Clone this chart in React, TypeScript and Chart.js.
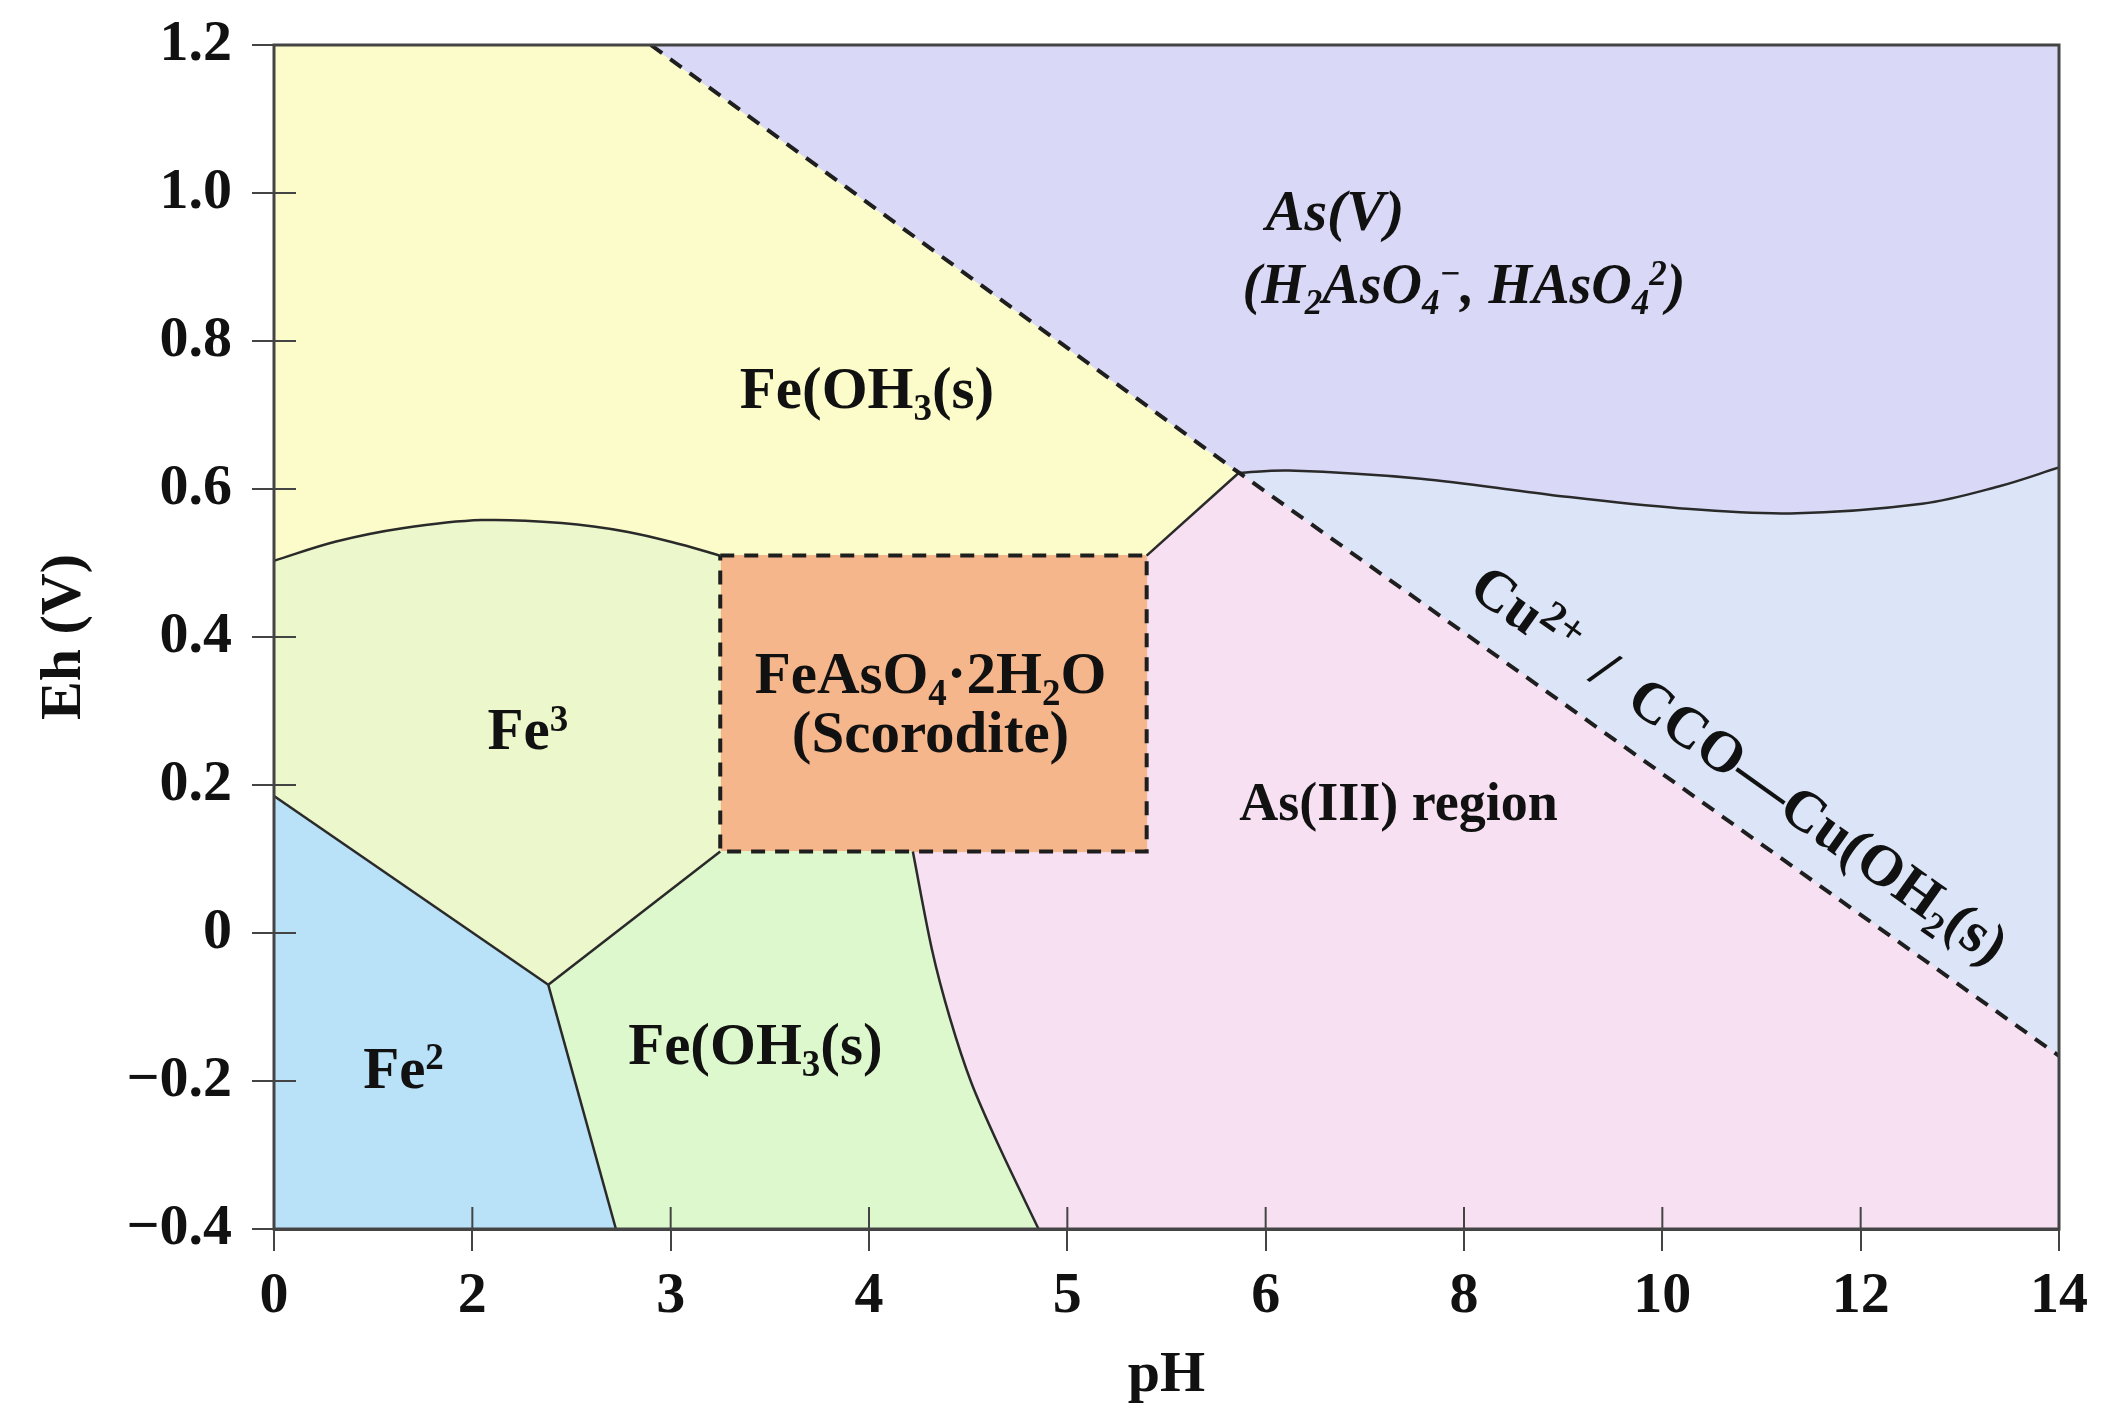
import React, { useEffect, useRef } from 'react';
import { Chart, registerables } from 'chart.js';

Chart.register(...registerables);

// ---------- axis ticks ----------
const xTickLabels = ['0', '2', '3', '4', '5', '6', '8', '10', '12', '14'];
const yMin = -0.4;
const yMax = 1.2;
const yStep = 0.2;

// ---------- boundaries: [x position index, Eh (V)] ----------
const dashedAsBoundary = [[1.9, 1.2], [4.865, 0.622], [9, -0.166]];
const wavyBoundary = [[4.865, 0.622], [5.116, 0.625], [5.782, 0.614], [6.438, 0.592], [7.083, 0.574], [7.646, 0.567], [8.31, 0.58], [8.69, 0.603], [9, 0.629]];
const fe3TopBoundary = [[0, 0.503], [0.313, 0.529], [0.647, 0.547], [1.047, 0.558], [1.45, 0.554], [1.785, 0.542], [2.053, 0.525], [2.25, 0.51]];
const scoroditeX = [2.25, 4.4];
const scoroditeEh = [0.11, 0.51];
const boxToTriple = [[4.4, 0.51], [4.865, 0.622]];
const fe3Fe2Boundary = [[0, 0.185], [1.383, -0.07]];
const junctionToBox = [[1.383, -0.07], [2.25, 0.11]];
const junctionToBottom = [[1.383, -0.07], [1.724, -0.4]];
const asIIIBoundary = [[3.221, 0.11], [3.317, -0.022], [3.407, -0.114], [3.517, -0.203], [3.662, -0.292], [3.855, -0.4]];

// ---------- colours ----------
const regionColors = {
  feOH3Upper: '#FCFCCB',
  asV: '#D9D9F7',
  cu: '#DCE5F8',
  asIII: '#F6E0F2',
  scorodite: '#F6B68C',
  fe3: '#ECF7CB',
  fe2: '#B9E2F8',
  feOH3Lower: '#DEF8CD',
};
const lineColor = '#2a2a2a';
const axisColor = '#444444';
const textColor = '#111111';
const FONT = '"Liberation Serif", "Times New Roman", serif';

// ---------- labels: parts [text, kind], x index, baseline Eh ----------
type Part = [string, string?];
const regionLabels: { parts: Part[]; x: number; y: number; size: number; style: string }[] = [
  { parts: [['Fe(OH'], ['3', 'sub'], ['(s)']], x: 2.99, y: 0.709, size: 59, style: 'bold' },
  { parts: [['As(V)']], x: 5.35, y: 0.95, size: 58, style: 'italic bold' },
  { parts: [['(H'], ['2', 'sub'], ['AsO'], ['4', 'sub'], ['\u2212', 'sup'], [', HAsO'], ['4', 'sub'], ['2', 'sup'], [')']], x: 6.0, y: 0.852, size: 56, style: 'italic bold' },
  { parts: [['Fe'], ['3', 'sup']], x: 1.28, y: 0.248, size: 59, style: 'bold' },
  { parts: [['FeAsO'], ['4', 'sub'], ['\u00B72H'], ['2', 'sub'], ['O']], x: 3.31, y: 0.324, size: 59, style: 'bold' },
  { parts: [['(Scorodite)']], x: 3.31, y: 0.245, size: 59, style: 'bold' },
  { parts: [['As(III) region']], x: 5.67, y: 0.153, size: 54, style: 'bold' },
  { parts: [['Fe'], ['2', 'sup']], x: 0.653, y: -0.209, size: 59, style: 'bold' },
  { parts: [['Fe(OH'], ['3', 'sub'], ['(s)']], x: 2.427, y: -0.177, size: 59, style: 'bold' },
];
const cuLabel: { parts: Part[]; x: number; y: number; size: number } = {
  parts: [['Cu'], ['2+', 'sup'], ['  /  CCO\u2014Cu(OH'], ['2', 'sub'], ['(s)']],
  x: 7.39,
  y: 0.228,
  size: 58,
};

type P = number[];
const rev = (a: P[]) => a.slice().reverse();

const T = wavyBoundary[0];
const D_END = dashedAsBoundary[2];
const TL = [scoroditeX[0], scoroditeEh[1]];
const TR = [scoroditeX[1], scoroditeEh[1]];
const BL = [scoroditeX[0], scoroditeEh[0]];
const BR = [scoroditeX[1], scoroditeEh[0]];
const J = fe3Fe2Boundary[1];

const regions: { color: string; pts: P[] }[] = [
  { color: regionColors.feOH3Upper, pts: [[0, yMax], dashedAsBoundary[0], T, TR, ...rev(fe3TopBoundary)] },
  { color: regionColors.asV, pts: [dashedAsBoundary[0], [9, yMax], ...rev(wavyBoundary)] },
  { color: regionColors.cu, pts: [...wavyBoundary, D_END] },
  { color: regionColors.asIII, pts: [T, D_END, [9, yMin], ...rev(asIIIBoundary), BR, TR] },
  { color: regionColors.scorodite, pts: [TL, TR, BR, BL] },
  { color: regionColors.fe3, pts: [...fe3TopBoundary, BL, J, fe3Fe2Boundary[0]] },
  { color: regionColors.fe2, pts: [fe3Fe2Boundary[0], J, junctionToBottom[1], [0, yMin]] },
  { color: regionColors.feOH3Lower, pts: [J, BL, ...asIIIBoundary, junctionToBottom[1]] },
];

const toXY = (a: P[]) => a.map(([x, y]) => ({ x, y }));

function drawRich(ctx: CanvasRenderingContext2D, parts: Part[], cx: number, baseY: number, size: number, style: string, supScale = 0.62) {
  const base = `${style} ${size}px ${FONT}`;
  const subFont = `${style} ${Math.round(size * 0.62)}px ${FONT}`;
  const supFont = `${style} ${Math.round(size * supScale)}px ${FONT}`;
  const fontOf = (k?: string) => (k === 'sub' ? subFont : k === 'sup' ? supFont : base);
  const widths = parts.map(([t, k]) => {
    ctx.font = fontOf(k);
    return ctx.measureText(t).width;
  });
  const total = widths.reduce((s, w) => s + w, 0);
  let x = cx - total / 2;
  parts.forEach(([t, k], i) => {
    ctx.font = fontOf(k);
    const dy = k === 'sub' ? size * 0.2 : k === 'sup' ? -size * 0.32 : 0;
    ctx.fillText(t, x, baseY + dy);
    x += widths[i];
  });
}

const regionPlugin = {
  id: 'regionFills',
  beforeDatasetsDraw(chart: any) {
    const { ctx, chartArea: a, scales } = chart;
    const xs = scales.x;
    const ys = scales.y;
    ctx.save();
    ctx.beginPath();
    ctx.rect(a.left, a.top, a.right - a.left, a.bottom - a.top);
    ctx.clip();
    for (const r of regions) {
      ctx.beginPath();
      r.pts.forEach(([px, py], i) => {
        const X = xs.getPixelForValue(px);
        const Y = ys.getPixelForValue(py);
        if (i === 0) ctx.moveTo(X, Y);
        else ctx.lineTo(X, Y);
      });
      ctx.closePath();
      ctx.fillStyle = r.color;
      ctx.fill();
      ctx.strokeStyle = r.color;
      ctx.lineWidth = 1;
      ctx.stroke();
    }
    ctx.restore();
  },
  afterDatasetsDraw(chart: any) {
    const { ctx, chartArea: a, scales } = chart;
    const xs = scales.x;
    const ys = scales.y;
    ctx.save();
    // inner tick marks
    ctx.strokeStyle = axisColor;
    ctx.lineWidth = 2;
    xs.ticks.forEach((t: any) => {
      const px = xs.getPixelForValue(t.value);
      ctx.beginPath();
      ctx.moveTo(px, a.bottom);
      ctx.lineTo(px, a.bottom - 22);
      ctx.stroke();
    });
    ys.ticks.forEach((t: any) => {
      const py = ys.getPixelForValue(t.value);
      ctx.beginPath();
      ctx.moveTo(a.left, py);
      ctx.lineTo(a.left + 22, py);
      ctx.stroke();
    });
    // frame
    ctx.lineWidth = 3;
    ctx.strokeRect(a.left, a.top, a.right - a.left, a.bottom - a.top);

    // labels
    ctx.fillStyle = textColor;
    ctx.textAlign = 'left';
    ctx.textBaseline = 'alphabetic';
    for (const l of regionLabels) {
      drawRich(ctx, l.parts, xs.getPixelForValue(l.x), ys.getPixelForValue(l.y), l.size, l.style);
    }
    // rotated Cu label along the dashed line
    const x1 = xs.getPixelForValue(T[0]);
    const y1 = ys.getPixelForValue(T[1]);
    const x2 = xs.getPixelForValue(D_END[0]);
    const y2 = ys.getPixelForValue(D_END[1]);
    const ang = Math.atan2(y2 - y1, x2 - x1);
    ctx.translate(xs.getPixelForValue(cuLabel.x), ys.getPixelForValue(cuLabel.y));
    ctx.rotate(ang);
    drawRich(ctx, cuLabel.parts, 0, cuLabel.size * 0.33, cuLabel.size, 'bold', 0.72);
    ctx.restore();
  },
};

const tickFont = { family: FONT, size: 58, weight: 'bold' as const };

export default function App() {
  const ref = useRef<HTMLCanvasElement | null>(null);
  useEffect(() => {
    if (!ref.current) return;
    const solid = (data: P[], tension = 0) => ({
      data: toXY(data),
      showLine: true,
      borderColor: lineColor,
      borderWidth: 2.5,
      pointRadius: 0,
      fill: false,
      tension,
    });
    const dashed = (data: P[]) => ({
      data: toXY(data),
      showLine: true,
      borderColor: '#1e1e1e',
      borderWidth: 4,
      borderDash: [14, 10],
      pointRadius: 0,
      fill: false,
      tension: 0,
    });
    const boxOutline: P[] = [TL, TR, BR, BL, TL];
    const chart = new Chart(ref.current, {
      type: 'scatter',
      data: {
        datasets: [
          dashed(dashedAsBoundary),
          dashed(boxOutline),
          solid(wavyBoundary, 0.35),
          solid(fe3TopBoundary, 0.35),
          solid(boxToTriple),
          solid(fe3Fe2Boundary),
          solid(junctionToBox),
          solid(junctionToBottom),
          solid(asIIIBoundary, 0.3),
        ] as any,
      },
      options: {
        responsive: false,
        animation: false,
        events: [],
        layout: { padding: { left: 0, right: 59, top: 45, bottom: 0 } },
        plugins: { legend: { display: false }, tooltip: { enabled: false } },
        scales: {
          x: {
            type: 'linear',
            min: 0,
            max: 9,
            afterFit: (s: any) => {
              s.height = 197;
              s.paddingLeft = 0;
              s.paddingRight = 0;
            },
            grid: { drawOnChartArea: false, drawTicks: true, tickLength: 22, color: axisColor, lineWidth: 2 },
            border: { display: true, color: axisColor, width: 3 },
            ticks: {
              stepSize: 1,
              autoSkip: false,
              maxRotation: 0,
              padding: 11,
              color: textColor,
              font: tickFont,
              callback: (v: any) => {
                const i = Math.round(Number(v));
                return Math.abs(Number(v) - i) < 1e-6 ? xTickLabels[i] ?? '' : '';
              },
            },
            title: { display: true, text: 'pH', color: textColor, font: tickFont, padding: { top: 0, bottom: 15 } },
          },
          y: {
            type: 'linear',
            min: yMin,
            max: yMax,
            afterFit: (s: any) => {
              s.width = 274;
              s.paddingTop = 0;
              s.paddingBottom = 0;
            },
            grid: { drawOnChartArea: false, drawTicks: true, tickLength: 22, color: axisColor, lineWidth: 2 },
            border: { display: true, color: axisColor, width: 3 },
            ticks: {
              stepSize: yStep,
              autoSkip: false,
              padding: 20,
              color: textColor,
              font: tickFont,
              callback: (v: any) => {
                const n = Number(v);
                if (Math.abs(n) < 1e-9) return '0';
                const s = Math.abs(n).toFixed(1);
                return n < 0 ? '\u2212' + s : s;
              },
            },
            title: { display: true, text: 'Eh (V)', color: textColor, font: tickFont, padding: { top: 30, bottom: 0 } },
          },
        },
      },
      plugins: [regionPlugin],
    });
    return () => chart.destroy();
  }, []);

  return (
    <div style={{ position: 'absolute', left: 0, top: 0, width: 2118, height: 1426, background: '#ffffff' }}>
      <canvas ref={ref} width={2118} height={1426} style={{ width: 2118, height: 1426, display: 'block' }} />
    </div>
  );
}
